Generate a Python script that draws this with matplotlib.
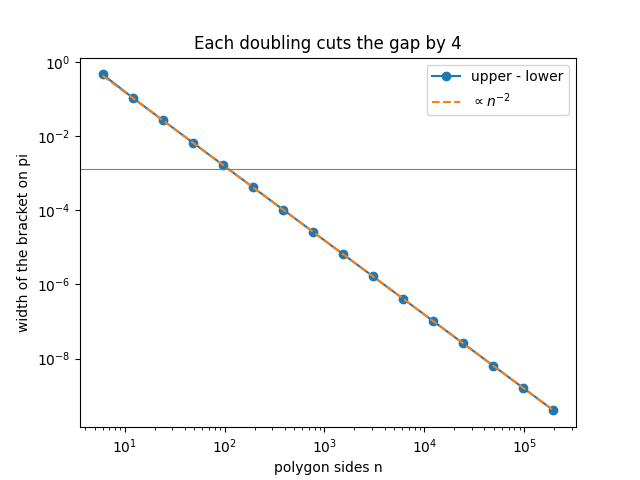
import numpy as np
import matplotlib
matplotlib.use("Agg")
import matplotlib.pyplot as plt

# polygon sides (hexagon doubled 15 times)
sides = [6, 12, 24, 48, 96, 192, 384, 768, 1536, 3072, 6144,
         12288, 24576, 49152, 98304, 196608]
# upper - lower bound on pi
gap = [0.4641016, 0.1095623, 0.027031, 0.006736, 0.0016827, 4.2058e-4,
       1.05138e-4, 2.62844e-5, 6.5711e-6, 1.64278e-6, 4.10694e-7,
       1.02674e-7, 2.56684e-8, 6.4171e-9, 1.60428e-9, 4.0107e-10]
# gray reference level: 22/7 - pi
ref_level = 22 / 7 - np.pi

n = np.array(sides, dtype=float)
g = np.array(gap)
ref = g[-1] * (n[-1] / n) ** 2

fig, ax = plt.subplots(figsize=(6.4, 4.8), dpi=100)
ax.loglog(n, g, "o-", label="upper - lower")
ax.loglog(n, ref, "--", label=r"$\propto n^{-2}$")
ax.axhline(ref_level, color="gray", lw=0.8)
ax.set_xlabel("polygon sides n")
ax.set_ylabel("width of the bracket on pi")
ax.set_title("Each doubling cuts the gap by 4")
ax.legend()
fig.savefig("out.png")
